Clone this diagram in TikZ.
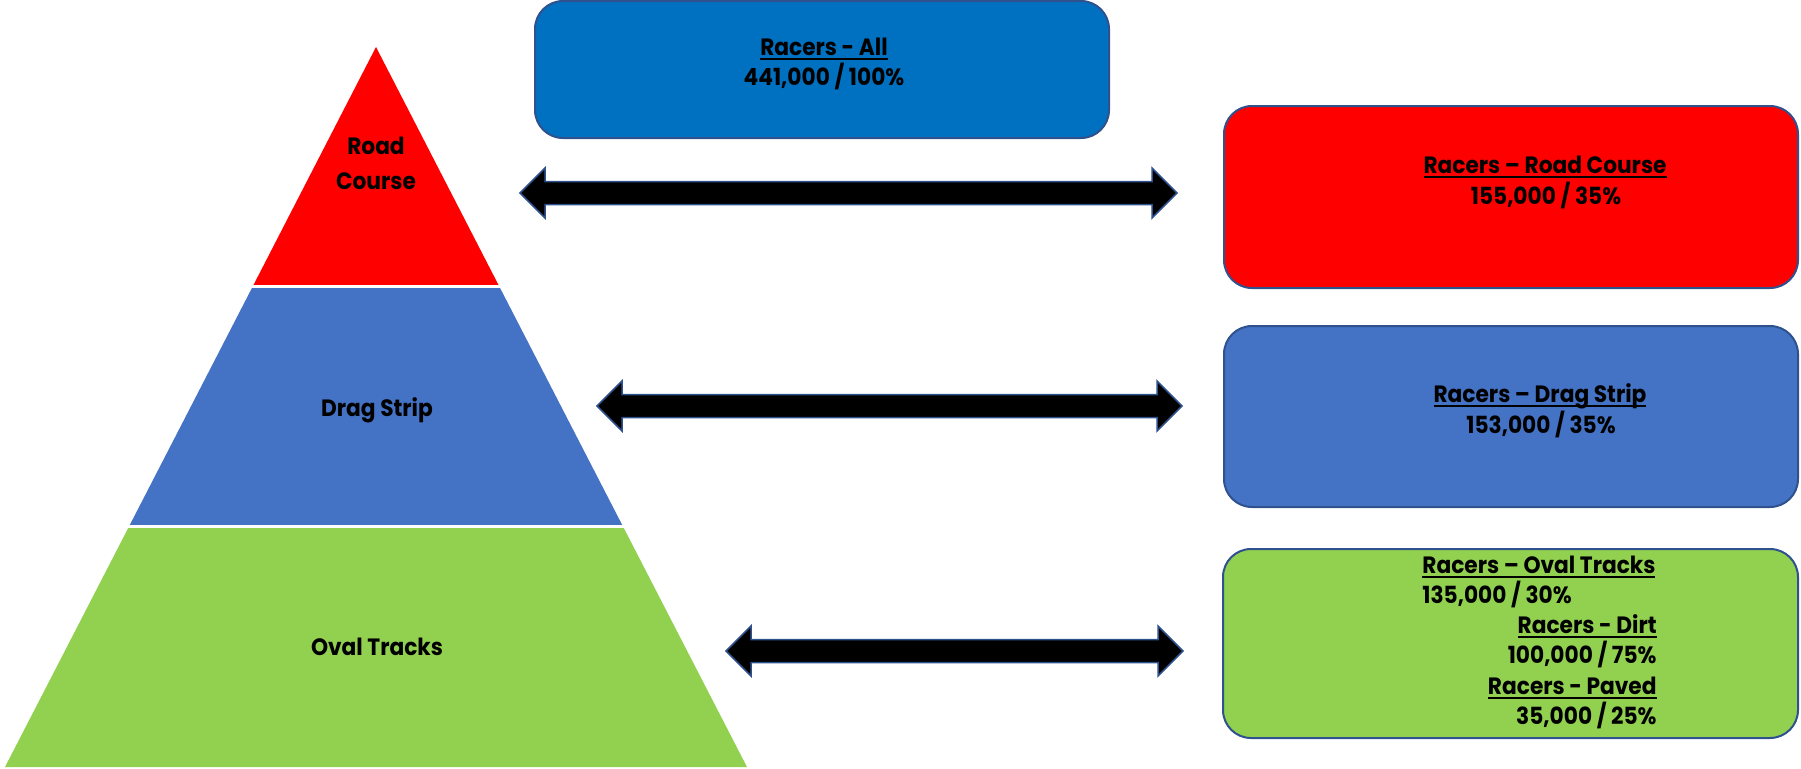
\documentclass[tikz,border=0pt]{standalone}
\usepackage{fontspec}
\setmainfont{Poppins}[FakeStretch=0.92]
\newcommand{\myul}[1]{\setbox0\hbox{#1}\rlap{\rule[-2.6pt]{\wd0}{1pt}}\box0}
\definecolor{bordc}{HTML}{2F528F}
\definecolor{redc}{HTML}{FF0000}
\definecolor{bluec}{HTML}{4472C4}
\definecolor{topc}{HTML}{0070C0}
\definecolor{greenc}{HTML}{92D050}
\tikzset{
  rbox/.style={draw=bordc, line width=1pt, rounded corners=14pt},
  lbl/.style={font=\bfseries\fontsize{11.8}{14}\selectfont, text=black, inner sep=0pt, anchor=base},
  barrow/.style={fill=black, draw=bordc, line width=0.75pt, line join=miter},
  sepline/.style={draw=white, line width=1.5pt}
}
\newcommand{\dblarrow}[3]{\draw[barrow] (#1,#3) -- ({#1+25},{#3-25}) -- ({#1+25},{#3-11.5}) -- ({#2-25},{#3-11.5}) -- ({#2-25},{#3-25}) -- (#2,#3) -- ({#2-25},{#3+25}) -- ({#2-25},{#3+11.5}) -- ({#1+25},{#3+11.5}) -- ({#1+25},{#3+25}) -- cycle;}
\begin{document}
\begin{tikzpicture}[x=0.5pt,y=-0.5pt]
\useasboundingbox (0,0) rectangle (1801,768);
% pyramid
\fill[redc] (376,47) -- (252.7,286.5) -- (499.3,286.5) -- cycle;
\fill[bluec] (252.7,286.5) -- (499.3,286.5) -- (623,526.5) -- (129,526.5) -- cycle;
\fill[greenc] (129,526.5) -- (623,526.5) -- (747,767) -- (5,767) -- cycle;
\draw[sepline] (240,286.5) -- (512,286.5);
\draw[sepline] (115,526.5) -- (637,526.5);
\node[lbl] (road1) at (376,154) {Road};
\node[lbl] (road2) at (376,189) {Course};
\node[lbl] (drag) at (377,416) {Drag Strip};
\node[lbl] (oval) at (377,655) {Oval Tracks};
% boxes
\draw[rbox, fill=topc] (535,1) rectangle (1109,138);
\draw[rbox, fill=redc] (1224,106) rectangle (1798,288);
\draw[rbox, fill=bluec] (1224,326) rectangle (1798,507);
\draw[rbox, fill=greenc] (1223,549) rectangle (1798,738);
\node[lbl] (all1) at (824,55) {\myul{Racers - All}};
\node[lbl] (all2) at (824,85) {441,000 / 100\%};
\node[lbl] (rc1) at (1545,173) {\myul{Racers – Road Course}};
\node[lbl] (rc2) at (1546,204) {155,000 / 35\%};
\node[lbl] (ds1) at (1540,402) {\myul{Racers – Drag Strip}};
\node[lbl] (ds2) at (1541,433) {153,000 / 35\%};
\node[lbl, anchor=base west] (ot1) at (1422,573) {\myul{Racers – Oval Tracks}};
\node[lbl, anchor=base west] (ot2) at (1422,603) {135,000 / 30\%};
\node[lbl, anchor=base east] (ot3) at (1657,633) {\myul{Racers - Dirt}};
\node[lbl, anchor=base east] (ot4) at (1657,663) {100,000 / 75\%};
\node[lbl, anchor=base east] (ot5) at (1657,694) {\myul{Racers - Paved}};
\node[lbl, anchor=base east] (ot6) at (1657,724) {35,000 / 25\%};
% arrows
\dblarrow{520}{1177}{193}
\dblarrow{597}{1182}{406}
\dblarrow{726}{1183}{651}
\end{tikzpicture}
\end{document}
